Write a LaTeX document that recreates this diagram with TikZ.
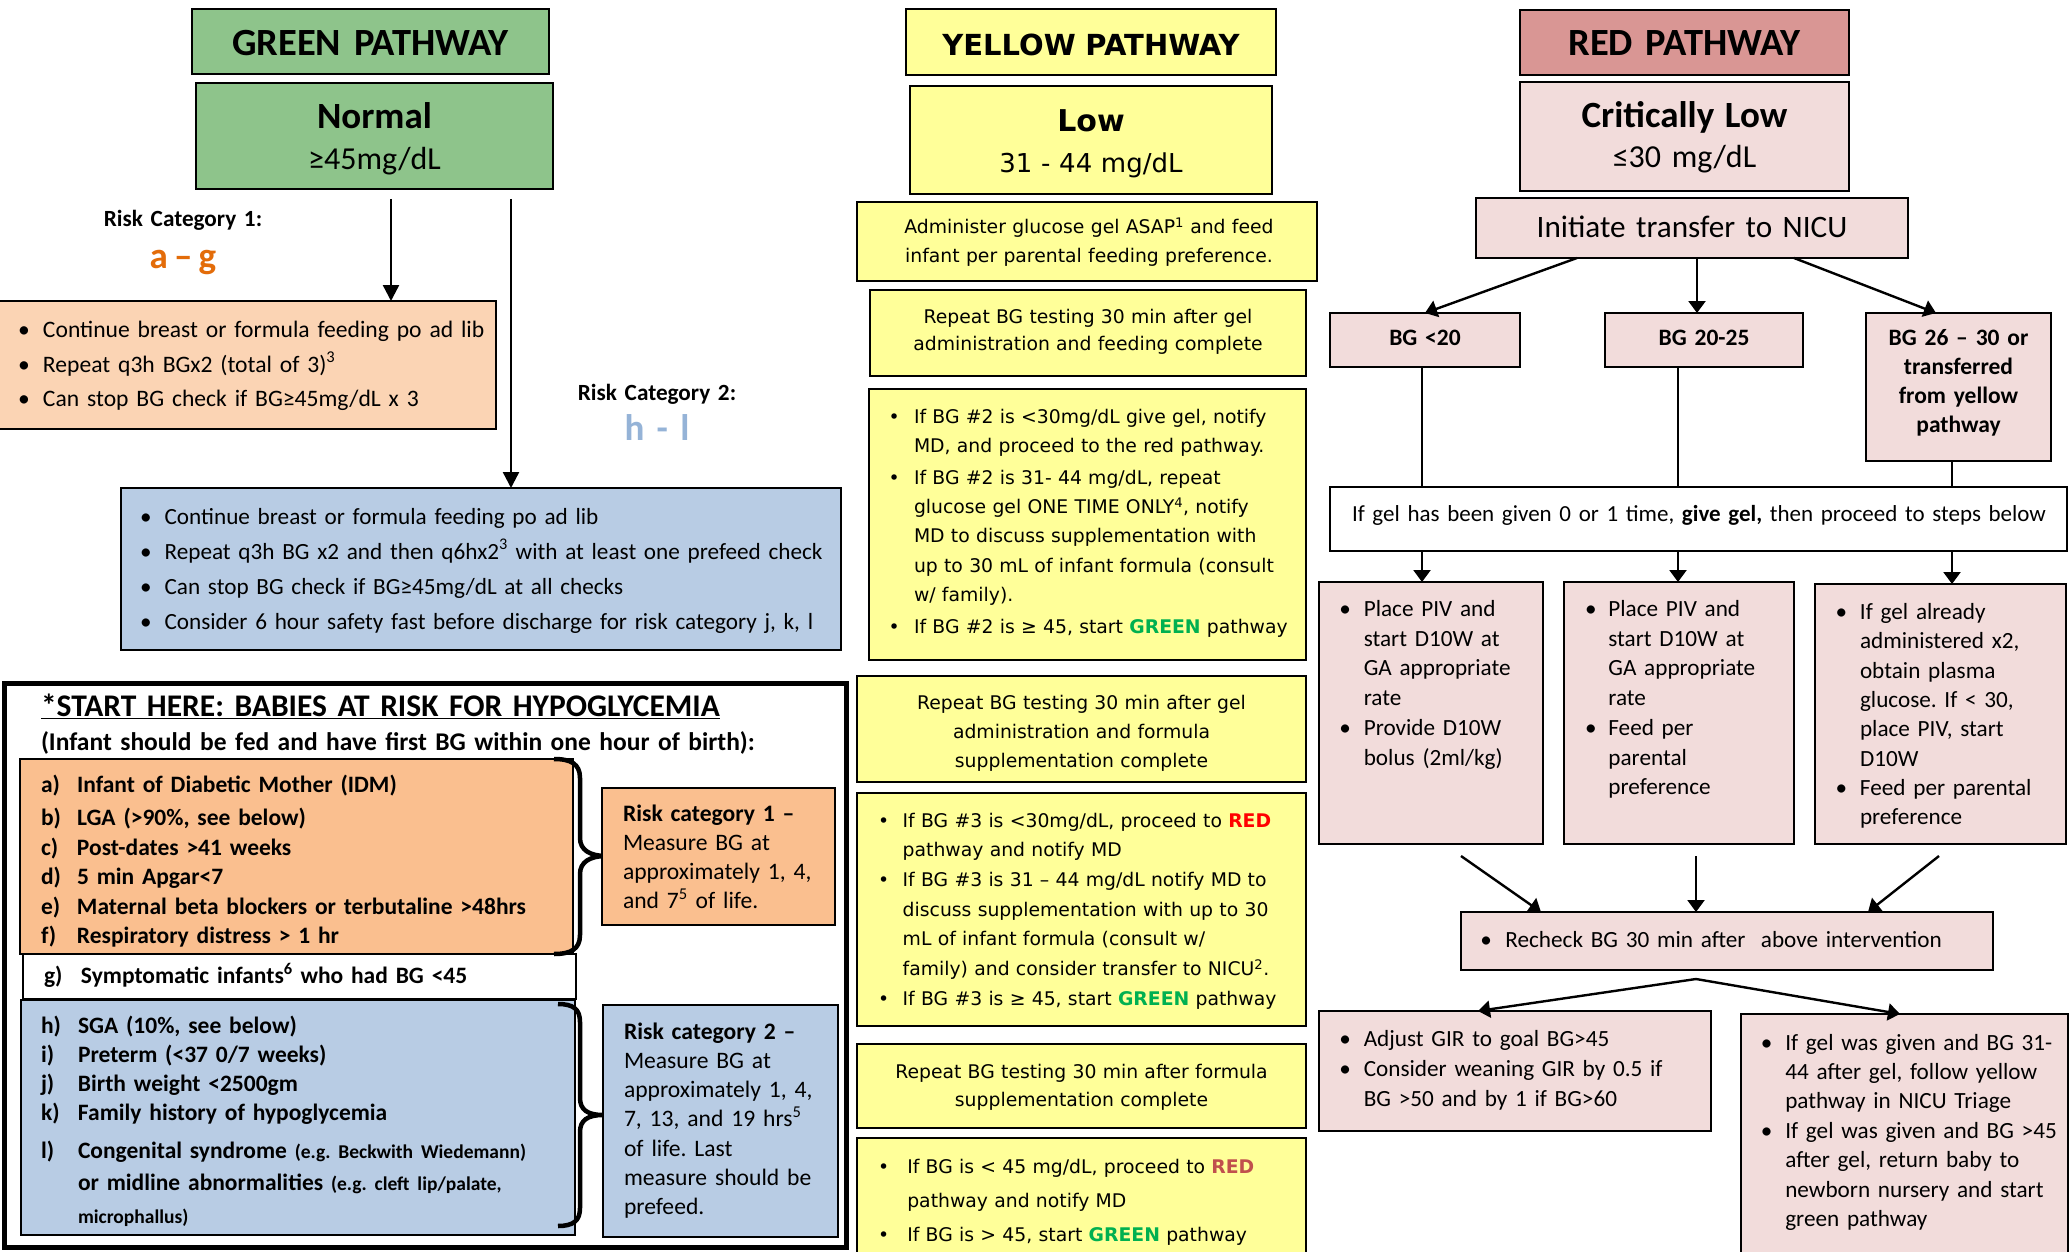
\documentclass[tikz,border=0pt]{standalone}
\usepackage{fontspec}
\setmainfont{Carlito}
\newfontfamily\vfont{DejaVu Sans}
\usetikzlibrary{arrows.meta,calc}
\definecolor{gfill}{HTML}{8EC48B}
\definecolor{peach}{HTML}{FBD4B4}
\definecolor{ofill}{HTML}{FABF8F}
\definecolor{bfill}{HTML}{B8CCE4}
\definecolor{yfill}{HTML}{FFFF99}
\definecolor{rhead}{HTML}{D99694}
\definecolor{rpink}{HTML}{F2DCDB}
\definecolor{agcol}{HTML}{E36C09}
\definecolor{hlcol}{HTML}{95B3D7}
\definecolor{gtext}{HTML}{00B050}
\definecolor{rtext}{HTML}{FF0000}
\definecolor{rtextb}{HTML}{C0504D}
\frenchspacing
\newcommand{\itm}[2]{\noindent\hangindent=#1\hangafter=1\makebox[#1][l]{#2}\ignorespaces}
\newcommand{\mkbox}[6]{\node[boxst,#6,anchor=north west,minimum width={(#4)-(#2)},minimum height={(#5)-(#3)}] (#1) at (#2,#3) {};}
\newcommand{\fsz}[2]{\fontsize{#1}{#2}\selectfont}
\begin{document}
\begin{tikzpicture}[x=1pt,y=-1pt,
 boxst/.style={draw=black,line width=2.4pt,rectangle,inner sep=0pt,outer sep=0pt},
 txt/.style={inner sep=0pt,outer sep=0pt,align=left,anchor=base west,text width=1000},
 ctxt/.style={inner sep=0pt,outer sep=0pt,align=center,anchor=base},
 arr/.style={line width=2.4pt,-{Triangle[length=16pt,width=16pt]}},
 arrr/.style={line width=2.4pt,-{Triangle[length=12pt,width=17pt]}},
 ln/.style={line width=2.4pt},
 brc/.style={line width=4.5pt}]
\useasboundingbox (0,0) rectangle (2070,1252);
\fill[white] (0,0) rectangle (2070,1252);

% ================= GREEN =================
\mkbox{gp}{192}{9}{549}{74}{fill=gfill}
\node[ctxt,text width=340,font=\fsz{38.5}{40}\bfseries] (gpt) at (370.5,56) {GREEN PATHWAY};
\mkbox{nb}{196}{83}{553}{189}{fill=gfill}
\node[ctxt,text width=340,font=\fsz{32}{41}] (nbt) at (374.5,129) {{\fsz{37}{41}\bfseries Normal}\\≥45mg/dL};
\node[ctxt,text width=220,font=\fsz{23.2}{29}\bfseries] (rc1lab) at (183,227) {Risk Category 1:};
\node[ctxt,text width=120,font=\fsz{37}{40}\bfseries,text=agcol] (ag) at (183,269) {a\,–\,g};
\node[ctxt,text width=220,font=\fsz{23.2}{29}\bfseries] (rc2lab) at (657,400) {Risk Category 2:};
\node[ctxt,text width=120,font=\fsz{37}{40}\bfseries,text=hlcol] (hl) at (657,440) {h - l};

\mkbox{ob}{-1.5}{301}{496}{429}{fill=peach}
\node[txt,font=\fsz{23.6}{35}] (obt) at (18,337) {\itm{25pt}{\textbullet}Continue breast or formula feeding po ad lib\par\itm{25pt}{\textbullet}Repeat q3h BGx2 (total of 3)\textsuperscript{3}\par\itm{25pt}{\textbullet}Can stop BG check if BG≥45mg/dL x 3\par};
\mkbox{bb}{121}{488}{841}{650}{fill=bfill}
\node[txt,font=\fsz{23.2}{35}] (bbt) at (140,524) {\itm{24.6pt}{\textbullet}Continue breast or formula feeding po ad lib\par\itm{24.6pt}{\textbullet}Repeat q3h BG x2 and then q6hx2\textsuperscript{3} with at least one prefeed check\par\itm{24.6pt}{\textbullet}Can stop BG check if BG≥45mg/dL at all checks\par\itm{24.6pt}{\textbullet}Consider 6 hour safety fast before discharge for risk category j, k, l\par};

\coordinate (a1s) at (391,199);
\coordinate (a2s) at (511,199);
\draw[arr] (a1s) -- (a1s |- ob.north);
\draw[arr] (a2s) -- (a2s |- bb.north);

% ================= START HERE =================
\mkbox{outer}{4}{683}{846}{1247}{line width=5pt}
\node[txt,font=\fsz{31.5}{36}\bfseries] (title) at (41,716.6) {\underline{*START HERE: BABIES AT RISK FOR HYPOGLYCEMIA}};
\node[txt,font=\fsz{25.5}{30}\bfseries] (sub) at (41,750.6) {(Infant should be fed and have first BG within one hour of birth):};

\mkbox{ol}{20}{759}{573}{954}{fill=ofill}
\node[txt,font=\fsz{23.5}{29.5}\bfseries] (olt) at (41,792) {\itm{36pt}{a)}Infant of Diabetic Mother (IDM)\par\vspace{4pt}\itm{36pt}{b)}LGA (>90\%, see below)\par\itm{36pt}{c)}Post-dates >41 weeks\par\itm{36pt}{d)}5 min Apgar<7\par\itm{36pt}{e)}Maternal beta blockers or terbutaline >48hrs\par\itm{36pt}{f)}Respiratory distress > 1 hr\par};
\mkbox{gb}{23}{954}{576}{999}{fill=white}
\node[txt,font=\fsz{23.5}{29}\bfseries] (gbt) at (44,983.5) {\itm{37pt}{g)}Symptomatic infants\textsuperscript{6} who had BG <45\par};
\mkbox{bl}{21}{1000}{575}{1235}{fill=bfill}
\node[txt,font=\fsz{23.5}{29}\bfseries] (blt) at (41,1033) {\itm{37pt}{h)}SGA (10\%, see below)\par\itm{37pt}{i)}Preterm (<37 0/7 weeks)\par\itm{37pt}{j)}Birth weight <2500gm\par\itm{37pt}{k)}Family history of hypoglycemia\par\vspace{5.5pt}\fsz{23.5}{32.5}\itm{37pt}{l)}Congenital syndrome {\fsz{19.5}{32.5}(e.g. Beckwith Wiedemann)}\newline or midline abnormalities {\fsz{19.5}{32.5}(e.g. cleft lip/palate,}\newline {\fsz{19.5}{32.5}microphallus)}\par};

\draw[brc] (554,759) .. controls (571,759) and (580,764) .. (580,778) -- (580,838) .. controls (580,850) and (590,856) .. (606,856) .. controls (590,856) and (580,862) .. (580,874) -- (580,935) .. controls (580,949) and (571,954) .. (554,954);
\draw[brc] (558,1004) .. controls (573,1004) and (580,1009) .. (580,1022) -- (580,1098) .. controls (580,1110) and (588,1115) .. (603,1115) .. controls (588,1115) and (580,1120) .. (580,1132) -- (580,1208) .. controls (580,1221) and (573,1226) .. (558,1226);

\mkbox{rc1}{602}{788}{835}{925}{fill=ofill}
\node[txt,font=\fsz{23.6}{29}] (rc1t) at (623,821.6) {{\bfseries Risk category 1 –}\\Measure BG at\\approximately 1, 4,\\and 7\textsuperscript{5} of life.};
\mkbox{rc2}{603}{1005}{838}{1237}{fill=bfill}
\node[txt,font=\fsz{23.6}{29.3}] (rc2t) at (624,1039) {{\bfseries Risk category 2 –}\\Measure BG at\\approximately 1, 4,\\7, 13, and 19 hrs\textsuperscript{5}\\of life. Last\\measure should be\\prefeed.};

% ================= YELLOW =================
\mkbox{yp}{906}{9}{1276}{75}{fill=yfill}
\node[ctxt,text width=360,font=\vfont\fsz{29}{32}\bfseries] (ypt) at (1091,56) {YELLOW PATHWAY};
\mkbox{lb}{910}{86}{1272}{194}{fill=yfill}
\node[ctxt,text width=350,font=\vfont\fsz{26}{40.5}] (lbt) at (1091,132) {{\fsz{30}{40.5}\bfseries Low}\\31 - 44 mg/dL};
\mkbox{adm}{857}{202}{1317}{281}{fill=yfill}
\node[ctxt,text width=450,font=\vfont\fsz{18.8}{28.5}] (admt) at (1089,233.6) {Administer glucose gel ASAP\textsuperscript{1} and feed\\infant per parental feeding preference.};
\mkbox{r1}{870}{290}{1306}{376}{fill=yfill}
\node[ctxt,text width=430,font=\vfont\fsz{18.8}{28}] (r1t) at (1088,323) {Repeat BG testing 30 min after gel\\administration and feeding complete};
\mkbox{b2}{869}{389}{1306}{660}{fill=yfill}
\node[txt,font=\vfont\fsz{18.8}{29.4}] (b2t) at (888.5,423) {\setlength{\parskip}{2.3pt}\itm{25.5pt}{\textbullet}If BG \#2 is <30mg/dL give gel, notify\newline MD, and proceed to the red pathway.\par\itm{25.5pt}{\textbullet}If BG \#2 is 31- 44 mg/dL, repeat\newline glucose gel ONE TIME ONLY\textsuperscript{4}, notify\newline MD to discuss supplementation with\newline up to 30 mL of infant formula (consult\newline w/ family).\par\itm{25.5pt}{\textbullet}If BG \#2 is ≥ 45, start {\bfseries\color{gtext}GREEN} pathway\par};
\mkbox{r2}{857}{676}{1306}{782}{fill=yfill}
\node[ctxt,text width=440,font=\vfont\fsz{18.8}{29}] (r2t) at (1081.5,709.5) {Repeat BG testing 30 min after gel\\administration and formula\\supplementation complete};
\mkbox{b3}{857}{793}{1306}{1026}{fill=yfill}
\node[txt,font=\vfont\fsz{18.8}{29.7}] (b3t) at (878,827) {\itm{24.7pt}{\textbullet}If BG \#3 is <30mg/dL, proceed to {\bfseries\color{rtext}RED}\newline pathway and notify MD\par\itm{24.7pt}{\textbullet}If BG \#3 is 31 – 44 mg/dL notify MD to\newline discuss supplementation with up to 30\newline mL of infant formula (consult w/\newline family) and consider transfer to NICU\textsuperscript{2}.\par\itm{24.7pt}{\textbullet}If BG \#3 is ≥ 45, start {\bfseries\color{gtext}GREEN} pathway\par};
\mkbox{r3}{857}{1044}{1306}{1128}{fill=yfill}
\node[ctxt,text width=440,font=\vfont\fsz{18.8}{28}] (r3t) at (1081.5,1078) {Repeat BG testing 30 min after formula\\supplementation complete};
\mkbox{fin}{857}{1138}{1306}{1262}{fill=yfill}
\node[txt,font=\vfont\fsz{18.8}{34}] (fint) at (878,1173) {\itm{29.3pt}{\textbullet}If BG is < 45 mg/dL, proceed to {\bfseries\color{rtextb}RED}\newline pathway and notify MD\par\itm{29.3pt}{\textbullet}If BG is > 45, start {\bfseries\color{gtext}GREEN} pathway\par};

% ================= RED =================
\mkbox{rp}{1520}{10}{1849}{75}{fill=rhead}
\node[ctxt,text width=320,font=\fsz{38.5}{40}\bfseries] (rpt) at (1684.5,55.5) {RED PATHWAY};
\mkbox{cl}{1520}{82}{1849}{191}{fill=rpink}
\node[ctxt,text width=320,font=\fsz{32}{40}] (clt) at (1684.5,128) {{\fsz{37}{40}\bfseries Critically Low}\\≤30 mg/dL};
\mkbox{nicu}{1476}{198}{1908}{258}{fill=rpink}
\node[ctxt,text width=420,font=\fsz{31.2}{36}] (nicut) at (1692,238) {Initiate transfer to NICU};
\mkbox{bga}{1330}{313}{1520}{367}{fill=rpink}
\node[ctxt,text width=180,font=\fsz{23.5}{29}\bfseries] (bgat) at (1425,345) {BG <20};
\mkbox{bgb}{1605}{313}{1803}{367}{fill=rpink}
\node[ctxt,text width=190,font=\fsz{23.5}{29}\bfseries] (bgbt) at (1704,345) {BG 20-25};
\mkbox{bgc}{1866}{313}{2051}{461}{fill=rpink}
\node[ctxt,text width=180,font=\fsz{23.5}{29}\bfseries] (bgct) at (1958.5,345) {BG 26 – 30 or\\transferred\\from yellow\\pathway};

\draw[arrr] (nicu.south -| 1577,0) -- (bga.north);
\draw[arrr] (nicu.south -| 1697,0) -- (bgb.north -| 1697,0);
\draw[arrr] (nicu.south -| 1794,0) -- (bgc.north -| 1936,0);

\mkbox{gel}{1330}{487}{2067}{551}{fill=white}
\node[txt,font=\fsz{23}{28}] (gelt) at (1352,521) {If gel has been given 0 or 1 time, \textbf{give gel,} then proceed to steps below};
\draw[ln] (bga.south -| 1422,0) -- (gel.north -| 1422,0);
\draw[ln] (bgb.south -| 1678,0) -- (gel.north -| 1678,0);
\draw[ln] (bgc.south -| 1952,0) -- (gel.north -| 1952,0);

\mkbox{p1}{1319}{582}{1543}{844}{fill=rpink}
\mkbox{p2}{1564}{582}{1794}{844}{fill=rpink}
\mkbox{p3}{1815}{584}{2066}{844}{fill=rpink}
\draw[arrr] (gel.south -| 1422,0) -- (p1.north -| 1422,0);
\draw[arrr] (gel.south -| 1678,0) -- (p2.north -| 1678,0);
\draw[arrr] (gel.south -| 1952,0) -- (p3.north -| 1952,0);
\node[txt,font=\fsz{23.2}{29.7}] (p1t) at (1339.4,616.5) {\itm{24.4pt}{\textbullet}Place PIV and\newline start D10W at\newline GA appropriate\newline rate\par\itm{24.4pt}{\textbullet}Provide D10W\newline bolus (2ml/kg)\par};
\node[txt,font=\fsz{23.2}{29.7}] (p2t) at (1585,616.5) {\itm{23.4pt}{\textbullet}Place PIV and\newline start D10W at\newline GA appropriate\newline rate\par\itm{23.4pt}{\textbullet}Feed per\newline parental\newline preference\par};
\node[txt,font=\fsz{23.2}{29.3}] (p3t) at (1835.5,619.6) {\itm{24.5pt}{\textbullet}If gel already\newline administered x2,\newline obtain plasma\newline glucose. If < 30,\newline place PIV, start\newline D10W\par\itm{24.5pt}{\textbullet}Feed per parental\newline preference\par};

\mkbox{rc}{1461}{912}{1993}{970}{fill=rpink}
\node[txt,font=\fsz{23.2}{28}] (rct) at (1480.4,947) {\itm{25pt}{\textbullet}Recheck BG 30 min after~ above intervention\par};
\coordinate (q1) at (1461,856);
\coordinate (q2) at (1696,856);
\coordinate (q3) at (1939,856);
\draw[arrr] (q1) -- (rc.north -| 1541,0);
\draw[arrr] (q2) -- (rc.north -| 1696,0);
\draw[arrr] (q3) -- (rc.north -| 1868,0);

\mkbox{adj}{1319}{1011}{1711}{1131}{fill=rpink}
\node[txt,font=\fsz{23.2}{30}] (adjt) at (1339.4,1046) {\itm{24.4pt}{\textbullet}Adjust GIR to goal BG>45\par\itm{24.4pt}{\textbullet}Consider weaning GIR by 0.5 if\newline BG >50 and by 1 if BG>60\par};
\mkbox{gg}{1741}{1014}{2068}{1262}{fill=rpink}
\node[txt,font=\fsz{23.2}{29.4}] (ggt) at (1760.8,1050) {\itm{24.5pt}{\textbullet}If gel was given and BG 31-\newline 44 after gel, follow yellow\newline pathway in NICU Triage\par\itm{24.5pt}{\textbullet}If gel was given and BG >45\newline after gel, return baby to\newline newborn nursery and start\newline green pathway\par};
\coordinate (sp) at (1696,979);
\draw[arrr] (sp) -- (adj.north -| 1478,0);
\draw[arrr] (sp) -- (gg.north -| 1900,0);
\end{tikzpicture}
\end{document}
